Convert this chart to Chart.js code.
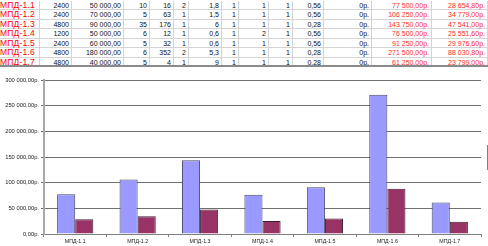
<!DOCTYPE html>
<html>
<head>
<meta charset="utf-8">
<script src="https://cdn.jsdelivr.net/npm/chart.js@4/dist/chart.umd.min.js"></script>
<style>
  html, body { margin: 0; padding: 0; background: #fff; }
  body { width: 488px; height: 246px; position: relative; overflow: hidden; font-family: "Liberation Sans", Arial, sans-serif; }
  .cell { position: absolute; font-size: 7px; line-height: 9.5px; height: 9.5px; white-space: nowrap; box-sizing: border-box; text-align: right; padding-right: 2px; color: #111; border-right: 1px solid #d4d4d4; border-bottom: 1px solid #d4d4d4; }
  .name { text-align: left; padding-left: 0; color: #f00; font-size: 8.5px; letter-spacing: 0.2px; }
  .red { color: #ff2a2a; }
  #thick { position: absolute; left: 0; top: 65px; width: 488px; height: 2px; background: #8a8a8a; }
  #legendEdge { position: absolute; left: 487px; top: 145px; width: 10px; height: 23px; border-left: 1px solid #808080; border-top: 1px solid #808080; border-bottom: 1px solid #808080; }
  #c { position: absolute; left: 0; top: 68px; }
</style>
</head>
<body>
<div id="table"></div>
<div id="thick"></div>
<canvas id="c" width="488" height="178"></canvas>
<div id="legendEdge"></div>
<script>
// ---- data ----
const categories = ["МПД-1.1", "МПД-1.2", "МПД-1.3", "МПД-1.4", "МПД-1.5", "МПД-1.6", "МПД-1.7"];
const colPower   = [2400, 2400, 4800, 1200, 2400, 4800, 4800];
const colPrice   = [50000, 70000, 90000, 50000, 60000, 180000, 40000];
const colD       = [10, 5, 35, 6, 5, 6, 5];
const colE       = [16, 63, 176, 12, 32, 352, 4];
const colF       = [2, 1, 1, 1, 1, 2, 1];
const colG       = [1.8, 1.5, 6, 0.6, 0.6, 5.3, 9];
const colH       = [1, 1, 1, 1, 1, 1, 1];
const colI       = [1, 1, 1, 2, 1, 1, 1];
const colJ       = [1, 1, 1, 1, 1, 1, 1];
const colK       = [0.56, 0.56, 0.28, 0.56, 0.56, 0.28, 0.28];
const colL       = [0, 0, 0, 0, 0, 0, 0];
const seriesTotal  = [77500, 106250, 143750, 76500, 91250, 271500, 61250];
const seriesSecond = [28654.8, 34779, 47541, 25551.6, 29976.6, 88030.8, 23799];
const yTickMin = 0, yTickMax = 300000, yTickStep = 50000;

// ---- formatting ----
function grp(n) { return String(n).replace(/\B(?=(\d{3})+(?!\d))/g, ' '); }
function money2(v) { const f = v.toFixed(2).split('.'); return grp(f[0]) + ',' + f[1]; }
function dec(v) { return String(v).replace('.', ','); }
function rub(v) { return money2(v) + 'р.'; }

// ---- table ----
const colRights = [39, 71, 123, 149, 173, 188, 221, 238, 268, 292, 323, 371, 431, 487];
const columns = [
  {vals: categories, fmt: s => s, cls: 'name'},
  {vals: colPower, fmt: String},
  {vals: colPrice, fmt: money2},
  {vals: colD, fmt: String},
  {vals: colE, fmt: String},
  {vals: colF, fmt: String},
  {vals: colG, fmt: dec},
  {vals: colH, fmt: String},
  {vals: colI, fmt: String},
  {vals: colJ, fmt: String},
  {vals: colK, fmt: dec},
  {vals: colL, fmt: v => v + 'р.'},
  {vals: seriesTotal, fmt: rub, cls: 'red'},
  {vals: seriesSecond, fmt: rub, cls: 'red'}
];
const tbl = document.getElementById('table');
for (let r = 0; r < categories.length; r++) {
  let left = 0;
  columns.forEach((col, ci) => {
    const d = document.createElement('div');
    d.className = 'cell' + (col.cls ? ' ' + col.cls : '');
    d.style.left = left + 'px';
    d.style.width = (colRights[ci] - left + 1) + 'px';
    d.style.top = (0.5 + r * 9.5) + 'px';
    d.textContent = col.fmt(col.vals[r]);
    tbl.appendChild(d);
    left = colRights[ci];
  });
}

// ---- chart ----
const whiteBg = {
  id: 'whiteBg',
  beforeDraw(chart) {
    const ctx = chart.ctx;
    ctx.save(); ctx.fillStyle = '#fff'; ctx.fillRect(0, 0, chart.width, chart.height); ctx.restore();
  }
};
new Chart(document.getElementById('c'), {
  type: 'bar',
  data: {
    labels: categories,
    datasets: [
      { data: seriesTotal, backgroundColor: '#9999ff', borderColor: '#4a4a6a', borderWidth: 1, borderSkipped: 'bottom' },
      { data: seriesSecond, backgroundColor: '#993366', borderColor: '#3a2030', borderWidth: 1, borderSkipped: 'bottom' }
    ]
  },
  options: {
    responsive: false,
    animation: false,
    devicePixelRatio: 1,
    datasets: { bar: { categoryPercentage: 0.58, barPercentage: 1.0 } },
    layout: { padding: { top: 12, right: 7, left: 0, bottom: 0 } },
    plugins: { legend: { display: false }, tooltip: { enabled: false } },
    scales: {
      x: {
        afterFit(s) { s.height = 12; },
        grid: { display: true, drawOnChartArea: false, drawTicks: true, tickLength: 3, offset: true, color: '#808080' },
        border: { color: '#808080', width: 1 },
        ticks: { font: { family: 'Liberation Sans', size: 5.3 }, color: '#222', padding: 1, maxRotation: 0, autoSkip: false }
      },
      y: {
        min: yTickMin, max: yTickMax,
        afterFit(s) { s.width = 44; },
        grid: { color: '#707070', lineWidth: 1, tickLength: 3, drawTicks: true },
        border: { color: '#a8a8a8', width: 2 },
        ticks: { stepSize: yTickStep, font: { family: 'Liberation Sans', size: 5.8 }, color: '#222', padding: 2, callback: v => money2(v) + 'р.' }
      }
    }
  },
  plugins: [whiteBg]
});
</script>
</body>
</html>
